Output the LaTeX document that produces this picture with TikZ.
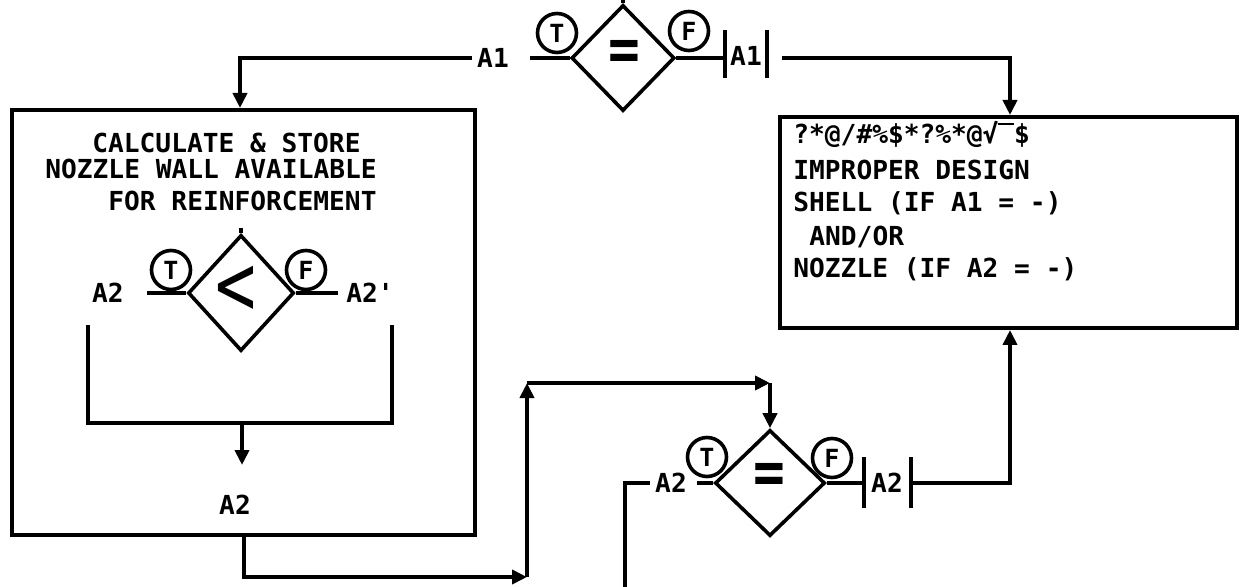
\documentclass[tikz,border=0pt]{standalone}
\usepackage{fontspec}
\newfontfamily\tw{DejaVu Sans Mono}
\usetikzlibrary{arrows.meta,shapes.geometric}
\newcommand\tf{\tw\bfseries\fontsize{13.1}{15}\selectfont}
\begin{document}
\begin{tikzpicture}[x=0.5pt,y=-0.5pt,
  ln/.style={line width=2pt},
  arr/.style={line width=2pt,-{Triangle[length=7.5pt,width=7pt]}},
  box/.style={draw,line width=2pt,rectangle,inner sep=0pt},
  dia/.style={draw,diamond,line width=1.8pt,inner sep=0pt},
  cir/.style={draw,circle,line width=1.8pt,minimum size=19.5pt,inner sep=0pt,font=\tw\bfseries\fontsize{12.5}{12.5}\selectfont},
  txt/.style={inner sep=0pt,font=\tf},
  lbl/.style={inner sep=2.5pt,font=\tf},
  sym/.style={inner sep=0pt}]
\useasboundingbox (0,0) rectangle (1241,587);
% boxes
\node[box,minimum width=231.5pt,minimum height=212.5pt] (lbox) at (243.5,322.5) {};
\node[box,minimum width=228.5pt,minimum height=105.5pt] (rbox) at (1008.5,222.5) {};
% left box text
\node[txt,anchor=base west] (l1) at (92,153) {CALCULATE \& STORE};
\node[txt,anchor=base west] (l2) at (45,179) {NOZZLE WALL AVAILABLE};
\node[txt,anchor=base west] (l3) at (108,211) {FOR REINFORCEMENT};
% right box text
\node[txt,anchor=base west] (r1) at (793,144) {?*@/\#\%\$*?\%*@√\makebox[0.602em][l]{\rule[0.74em]{0.602em}{0.07em}}\$};
\node[txt,anchor=base west] (r2) at (793,180) {IMPROPER DESIGN};
\node[txt,anchor=base west] (r3) at (793,212) {SHELL (IF A1 = -)};
\node[txt,anchor=base west] (r4) at (809,246) {AND/OR};
\node[txt,anchor=base west] (r5) at (793,278) {NOZZLE (IF A2 = -)};
% diamonds
\node[dia,minimum width=51.5pt,minimum height=53pt] (d1) at (623,58) {};
\node[dia,minimum width=53pt,minimum height=58pt] (d2) at (241,293) {};
\node[dia,minimum width=55pt,minimum height=53pt] (d3) at (770,483) {};
\coordinate (d1top) at (623,0);
\coordinate (d2top) at (241,228);
\draw[ln] (d1.north) -- (d1top);
\draw[ln] (d2.north) -- (d2top);
\node[sym,font=\tw\bfseries\fontsize{24}{24}\selectfont] (eq1) at (624,55) {\scalebox{1.1}[1.3]{=}};
\node[sym,font=\tw\bfseries\fontsize{24}{24}\selectfont] (eq3) at (769,478) {\scalebox{1.1}[1.3]{=}};
\node[sym,font=\tw\fontsize{34}{34}\selectfont] (lt2) at (236,291) {\scalebox{1}[1.3]{<}};
% T / F circles
\node[cir] (t1) at (557,33) {T};
\node[cir] (f1) at (689,31) {F};
\node[cir] (t2) at (171,270) {T};
\node[cir] (f2) at (306,270) {F};
\node[cir] (t3) at (707,457) {T};
\node[cir] (f3) at (832,458) {F};
% top diamond connectors
\node[lbl] (a1) at (493,58) {A1};
\coordinate (s1) at (530,58);
\coordinate (c1) at (240,58);
\draw[ln] (d1.west) -- (s1);
\draw[arr] (a1.west) -- (c1) -- (c1 |- lbox.north);
\node[lbl] (v1) at (746,56) {A1};
\coordinate (b1l) at (725,58);
\coordinate (b1r) at (782,58);
\coordinate (c2) at (1010,58);
\draw[ln] (d1.east) -- (b1l);
\draw[ln] (725,30) -- (725,78);
\draw[ln] (767,30) -- (767,78);
\draw[arr] (b1r) -- (c2) -- (c2 |- rbox.north);
% inner diamond
\node[lbl] (a2in) at (108,293) {A2};
\node[lbl] (a2p) at (370,293) {A2'};
\coordinate (s2) at (147,293);
\coordinate (s2r) at (338,293);
\draw[ln] (s2) -- (d2.west);
\draw[ln] (d2.east) -- (s2r);
\coordinate (k1) at (88,325);
\coordinate (k2) at (88,423);
\coordinate (k3) at (392,423);
\coordinate (k4) at (392,325);
\draw[ln] (k1) -- (k2) -- (k3) -- (k4);
\coordinate (k5) at (242,423);
\coordinate (k6) at (242,465);
\draw[arr] (k5) -- (k6);
\node[lbl] (a2out) at (235,505) {A2};
% exit path
\coordinate (e1) at (243.5,577);
\coordinate (e2) at (527,577);
\coordinate (e3) at (527,383);
\coordinate (e4) at (770,383);
\draw[arr] (lbox.south) -- (e1) -- (e2);
\draw[arr] (e2) -- (e3);
\draw[arr] (e3) -- (e4);
\draw[arr] (e4) -- (d3.north);
% bottom diamond
\node[lbl] (a2b) at (671,483) {A2};
\coordinate (g0) at (625,587);
\coordinate (g1) at (625,483);
\coordinate (s3) at (697,483);
\draw[ln] (g0) -- (g1) -- (a2b.west);
\draw[ln] (s3) -- (d3.west);
\node[lbl] (v2) at (887,483) {A2};
\coordinate (b3l) at (864,483);
\coordinate (h1) at (911,483);
\coordinate (h2) at (1010,483);
\draw[ln] (d3.east) -- (b3l);
\draw[ln] (864,457) -- (864,508);
\draw[ln] (911,457) -- (911,508);
\draw[arr] (h1) -- (h2) -- (h2 |- rbox.south);
\end{tikzpicture}
\end{document}
